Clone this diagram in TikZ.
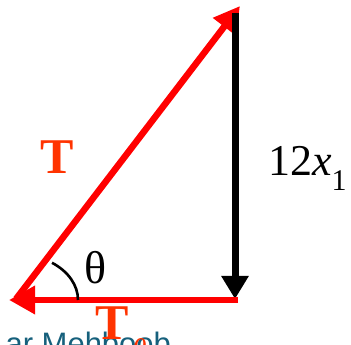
\documentclass[tikz,border=0pt]{standalone}
\usepackage{fontspec}
\setmainfont{Liberation Serif}
\newfontfamily\labelsans{Liberation Sans}
\usetikzlibrary{arrows.meta,calc}

\definecolor{vecred}{RGB}{255,0,0}
\definecolor{tlabel}{RGB}{255,51,0}
\definecolor{markteal}{RGB}{22,96,124}

\begin{document}
\begin{tikzpicture}[
  x=1pt, y=1pt,
  every node/.style={inner sep=0pt, outer sep=0pt},
  redvec/.style={draw=vecred, line width=6.5pt,
    -{Triangle[length=26pt,width=27pt]}},
  blackvec/.style={draw=black, line width=7pt,
    -{Triangle[length=23pt,width=26pt]}},
  bigtxt/.style={font=\fontsize{44}{44}\selectfont},
  tname/.style={text=tlabel, font=\bfseries\fontsize{50}{50}\selectfont},
]
\clip (0,0) rectangle (351,345);
\fill[white] (0,0) rectangle (351,345);

%---------- corners of the triangle ----------
\coordinate (vA) at (9,45);     % left tip
\coordinate (vS) at (16,46);    % tail of the slanted vector
\coordinate (vB) at (240,339);  % top tip
\coordinate (vTop) at (235,332);
\coordinate (vC) at (235,46);   % lower right
\coordinate (vCr) at (238,45);

%---------- watermark (cut by the page edge) ----------
\node[anchor=base east, text=markteal,
  font=\labelsans\fontsize{31}{31}\selectfont] (mark) at (171,-10)
  {ar Mehboob};

%---------- vectors ----------
\draw[redvec] (vS) -- (vB);
\draw[blackvec] (vTop) -- (vC);
\draw[redvec] (vCr) -- (vA);

%---------- angle ----------
\draw[line width=2.6pt] ($(vA)+(69,0)$)
  arc[start angle=0, end angle=54, x radius=63, y radius=46];

%---------- labels ----------
\node[tname] (tlab) at (57,188) {T};
\node[bigtxt, anchor=base west] (load) at (268,169)
  {12\textit{x}\raisebox{-15pt}{\fontsize{30}{30}\selectfont 1}};
\node[bigtxt, font=\fontsize{46}{46}\selectfont] (ang) at (96,77) {θ};
\node[tname, anchor=base] (tbot) at (121,5)
  {T\kern3pt\raisebox{-20pt}{\mdseries\itshape\fontsize{30}{30}\selectfont θ}};
\end{tikzpicture}
\end{document}
